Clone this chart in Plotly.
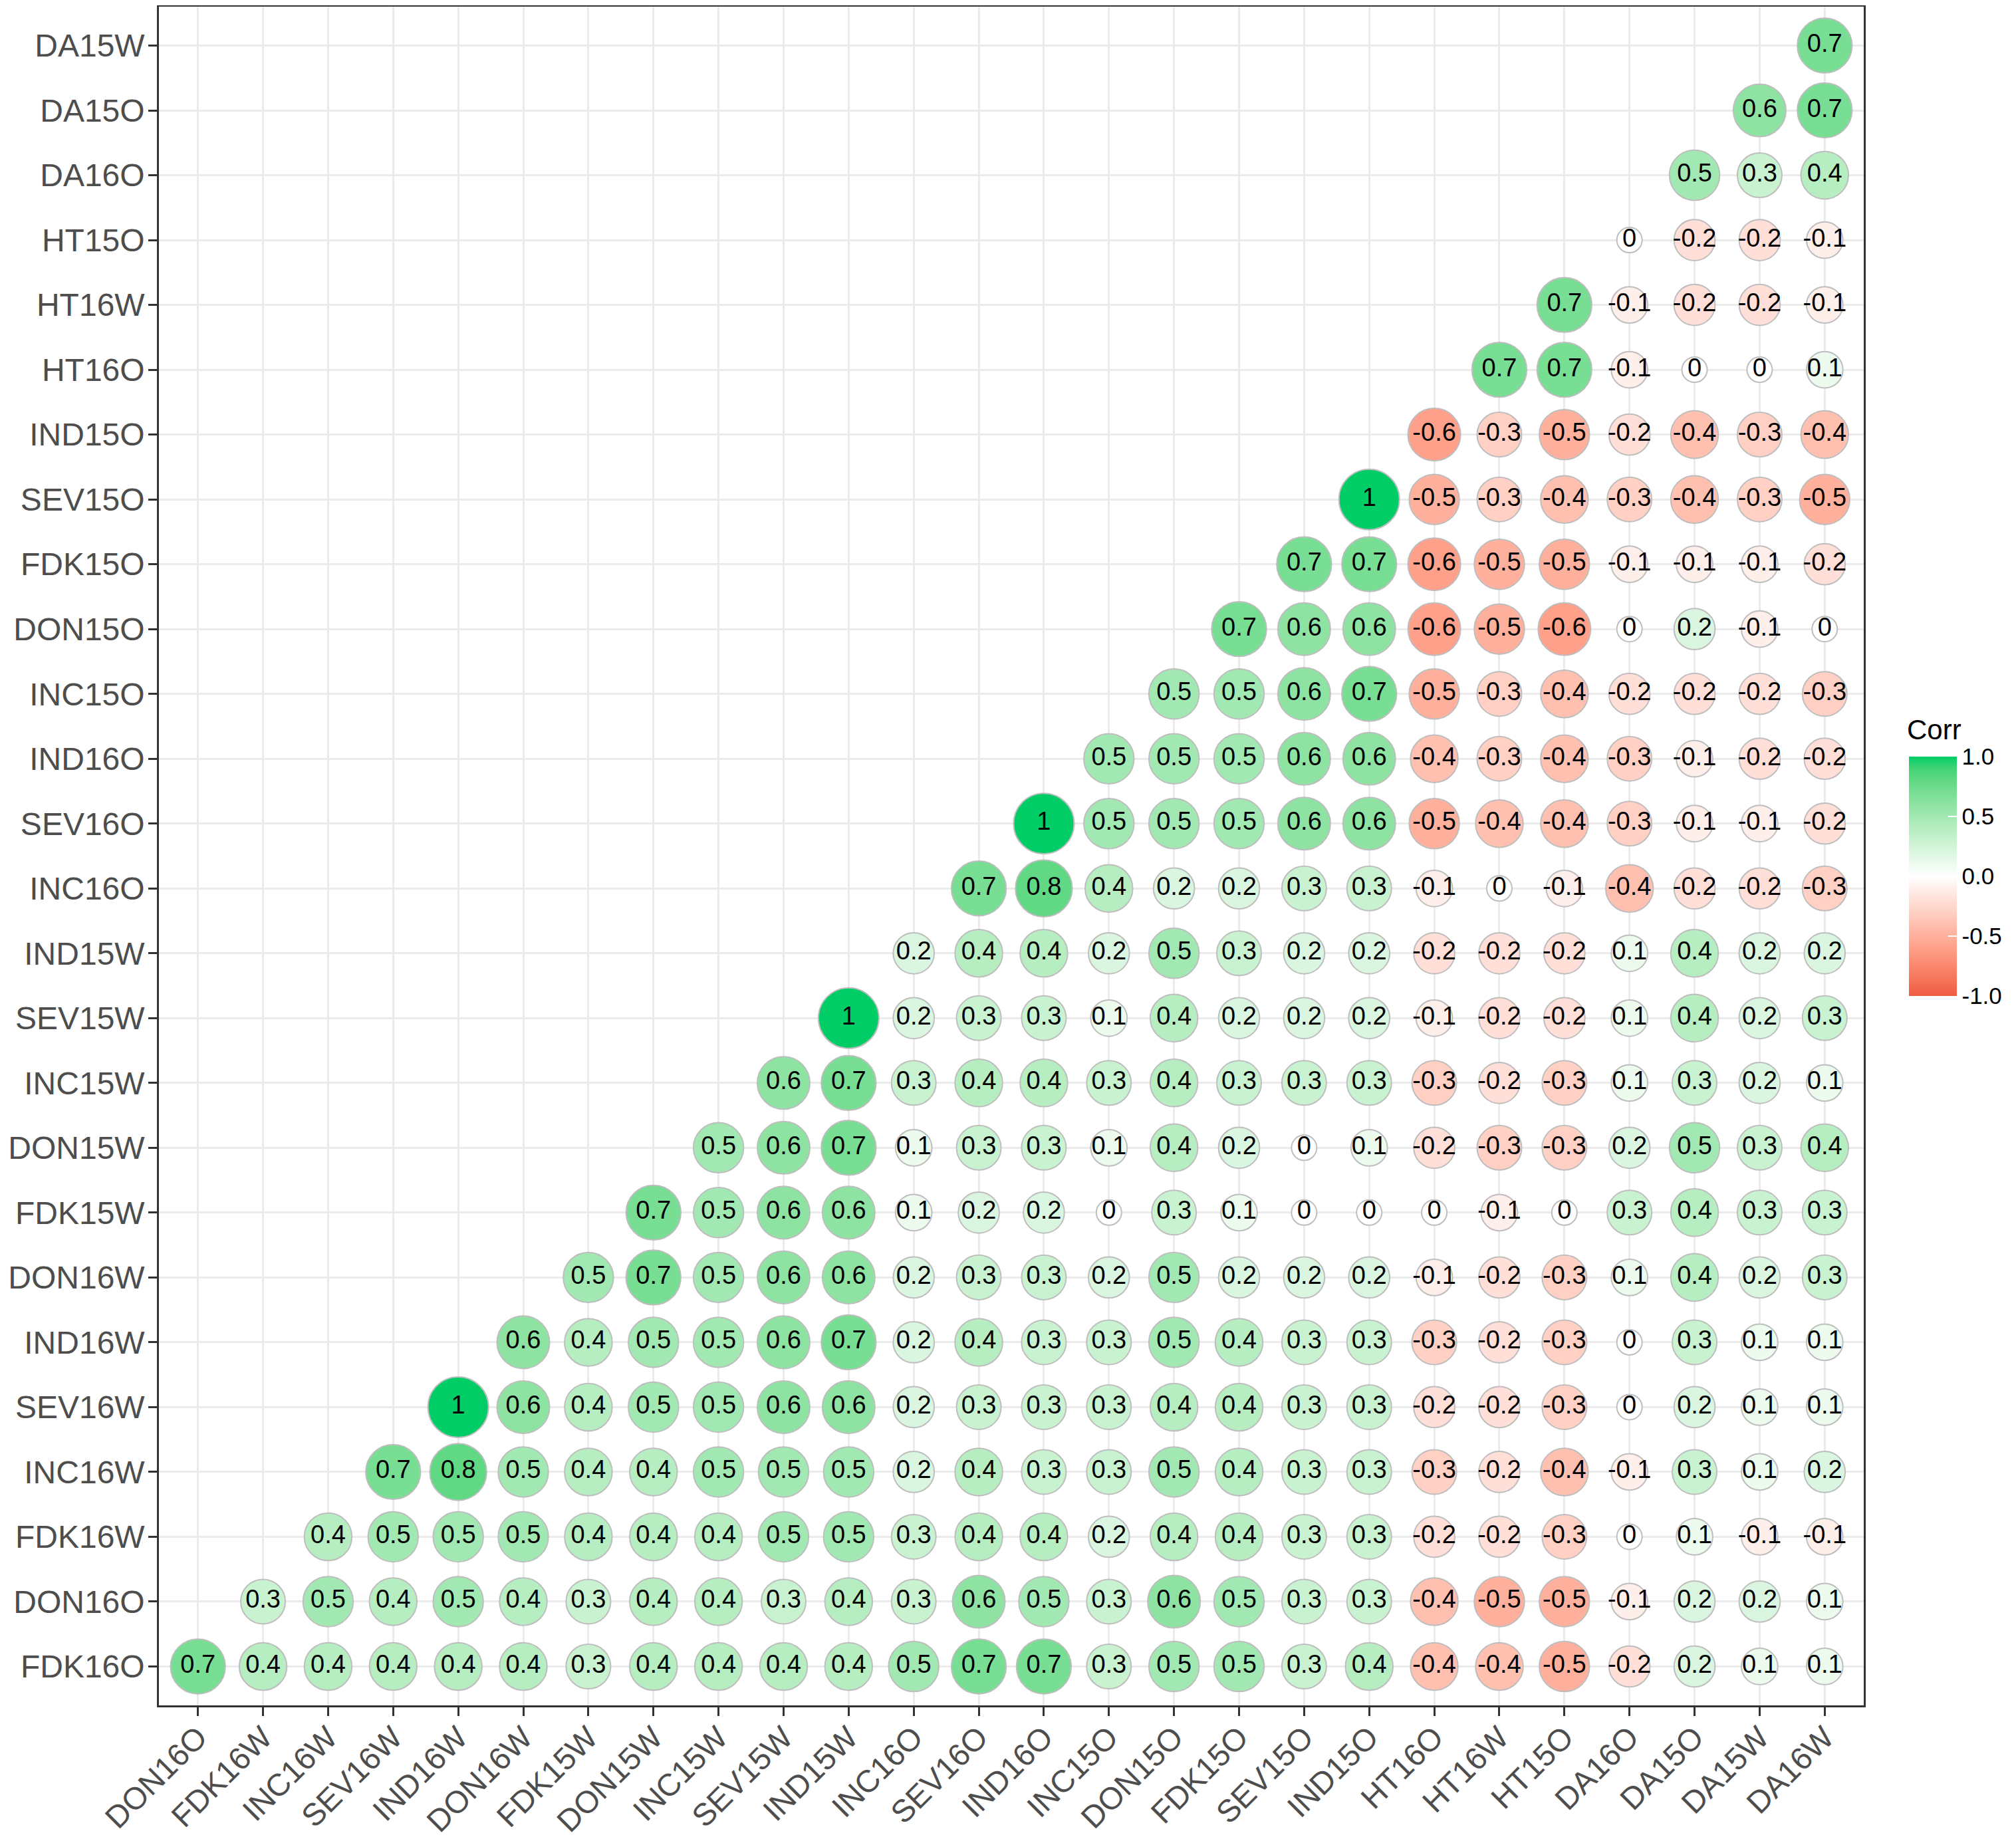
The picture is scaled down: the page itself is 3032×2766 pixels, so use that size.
import math
import plotly.graph_objects as go

# variable order used on both axes
x_vars = ["DON16O", "FDK16W", "INC16W", "SEV16W", "IND16W", "DON16W", "FDK15W",
          "DON15W", "INC15W", "SEV15W", "IND15W", "INC16O", "SEV16O", "IND16O",
          "INC15O", "DON15O", "FDK15O", "SEV15O", "IND15O", "HT16O", "HT16W",
          "HT15O", "DA16O", "DA15O", "DA15W", "DA16W"]
y_vars = ["FDK16O", "DON16O", "FDK16W", "INC16W", "SEV16W", "IND16W", "DON16W",
          "FDK15W", "DON15W", "INC15W", "SEV15W", "IND15W", "INC16O", "SEV16O",
          "IND16O", "INC15O", "DON15O", "FDK15O", "SEV15O", "IND15O", "HT16O",
          "HT16W", "HT15O", "DA16O", "DA15O", "DA15W"]

# rounded correlations, one list per row (y variable), starting at the first shown column
r_FDK16O = [0.7, 0.4, 0.4, 0.4, 0.4, 0.4, 0.3, 0.4, 0.4, 0.4, 0.4, 0.5, 0.7, 0.7, 0.3, 0.5, 0.5, 0.3, 0.4, -0.4, -0.4, -0.5, -0.2, 0.2, 0.1, 0.1]
r_DON16O = [0.3, 0.5, 0.4, 0.5, 0.4, 0.3, 0.4, 0.4, 0.3, 0.4, 0.3, 0.6, 0.5, 0.3, 0.6, 0.5, 0.3, 0.3, -0.4, -0.5, -0.5, -0.1, 0.2, 0.2, 0.1]
r_FDK16W = [0.4, 0.5, 0.5, 0.5, 0.4, 0.4, 0.4, 0.5, 0.5, 0.3, 0.4, 0.4, 0.2, 0.4, 0.4, 0.3, 0.3, -0.2, -0.2, -0.3, 0, 0.1, -0.1, -0.1]
r_INC16W = [0.7, 0.8, 0.5, 0.4, 0.4, 0.5, 0.5, 0.5, 0.2, 0.4, 0.3, 0.3, 0.5, 0.4, 0.3, 0.3, -0.3, -0.2, -0.4, -0.1, 0.3, 0.1, 0.2]
r_SEV16W = [1, 0.6, 0.4, 0.5, 0.5, 0.6, 0.6, 0.2, 0.3, 0.3, 0.3, 0.4, 0.4, 0.3, 0.3, -0.2, -0.2, -0.3, 0, 0.2, 0.1, 0.1]
r_IND16W = [0.6, 0.4, 0.5, 0.5, 0.6, 0.7, 0.2, 0.4, 0.3, 0.3, 0.5, 0.4, 0.3, 0.3, -0.3, -0.2, -0.3, 0, 0.3, 0.1, 0.1]
r_DON16W = [0.5, 0.7, 0.5, 0.6, 0.6, 0.2, 0.3, 0.3, 0.2, 0.5, 0.2, 0.2, 0.2, -0.1, -0.2, -0.3, 0.1, 0.4, 0.2, 0.3]
r_FDK15W = [0.7, 0.5, 0.6, 0.6, 0.1, 0.2, 0.2, 0, 0.3, 0.1, 0, 0, 0, -0.1, 0, 0.3, 0.4, 0.3, 0.3]
r_DON15W = [0.5, 0.6, 0.7, 0.1, 0.3, 0.3, 0.1, 0.4, 0.2, 0, 0.1, -0.2, -0.3, -0.3, 0.2, 0.5, 0.3, 0.4]
r_INC15W = [0.6, 0.7, 0.3, 0.4, 0.4, 0.3, 0.4, 0.3, 0.3, 0.3, -0.3, -0.2, -0.3, 0.1, 0.3, 0.2, 0.1]
r_SEV15W = [1, 0.2, 0.3, 0.3, 0.1, 0.4, 0.2, 0.2, 0.2, -0.1, -0.2, -0.2, 0.1, 0.4, 0.2, 0.3]
r_IND15W = [0.2, 0.4, 0.4, 0.2, 0.5, 0.3, 0.2, 0.2, -0.2, -0.2, -0.2, 0.1, 0.4, 0.2, 0.2]
r_INC16O = [0.7, 0.8, 0.4, 0.2, 0.2, 0.3, 0.3, -0.1, 0, -0.1, -0.4, -0.2, -0.2, -0.3]
r_SEV16O = [1, 0.5, 0.5, 0.5, 0.6, 0.6, -0.5, -0.4, -0.4, -0.3, -0.1, -0.1, -0.2]
r_IND16O = [0.5, 0.5, 0.5, 0.6, 0.6, -0.4, -0.3, -0.4, -0.3, -0.1, -0.2, -0.2]
r_INC15O = [0.5, 0.5, 0.6, 0.7, -0.5, -0.3, -0.4, -0.2, -0.2, -0.2, -0.3]
r_DON15O = [0.7, 0.6, 0.6, -0.6, -0.5, -0.6, 0, 0.2, -0.1, 0]
r_FDK15O = [0.7, 0.7, -0.6, -0.5, -0.5, -0.1, -0.1, -0.1, -0.2]
r_SEV15O = [1, -0.5, -0.3, -0.4, -0.3, -0.4, -0.3, -0.5]
r_IND15O = [-0.6, -0.3, -0.5, -0.2, -0.4, -0.3, -0.4]
r_HT16O = [0.7, 0.7, -0.1, 0, 0, 0.1]
r_HT16W = [0.7, -0.1, -0.2, -0.2, -0.1]
r_HT15O = [0, -0.2, -0.2, -0.1]
r_DA16O = [0.5, 0.3, 0.4]
r_DA15O = [0.6, 0.7]
r_DA15W = [0.7]

rows = [r_FDK16O, r_DON16O, r_FDK16W, r_INC16W, r_SEV16W, r_IND16W, r_DON16W,
        r_FDK15W, r_DON15W, r_INC15W, r_SEV15W, r_IND15W, r_INC16O, r_SEV16O,
        r_IND16O, r_INC15O, r_DON15O, r_FDK15O, r_SEV15O, r_IND15O, r_HT16O,
        r_HT16W, r_HT15O, r_DA16O, r_DA15O, r_DA15W]

xs, ys, vals = [], [], []
for i, row in enumerate(rows):
    for k, v in enumerate(row):
        xs.append(x_vars[i + k])
        ys.append(y_vars[i])
        vals.append(v)


# gradient2 like ggplot: tomato2 - white - springgreen3, interpolated in Lab
def to_lab(rgb):
    lin = []
    for c in rgb:
        c = c / 255
        lin.append(c / 12.92 if c <= 0.04045 else ((c + 0.055) / 1.055) ** 2.4)
    r, g, b = lin
    X = (0.4124 * r + 0.3576 * g + 0.1805 * b) / 0.95047
    Y = 0.2126 * r + 0.7152 * g + 0.0722 * b
    Z = (0.0193 * r + 0.1192 * g + 0.9505 * b) / 1.08883
    f = lambda t: t ** (1 / 3) if t > 0.008856 else 7.787 * t + 16 / 116
    fx, fy, fz = f(X), f(Y), f(Z)
    return (116 * fy - 16, 500 * (fx - fy), 200 * (fy - fz))


def from_lab(lab):
    L, a, b = lab
    fy = (L + 16) / 116
    fx = fy + a / 500
    fz = fy - b / 200
    finv = lambda t: t ** 3 if t ** 3 > 0.008856 else (t - 16 / 116) / 7.787
    X, Y, Z = finv(fx) * 0.95047, finv(fy), finv(fz) * 1.08883
    r = 3.2406 * X - 1.5372 * Y - 0.4986 * Z
    g = -0.9689 * X + 1.8758 * Y + 0.0415 * Z
    bb = 0.0557 * X - 0.2040 * Y + 1.0570 * Z
    out = []
    for c in (r, g, bb):
        c = 12.92 * c if c <= 0.0031308 else 1.055 * c ** (1 / 2.4) - 0.055
        out.append(int(round(min(max(c, 0), 1) * 255)))
    return "rgb(%d,%d,%d)" % tuple(out)


low, mid, high = to_lab((238, 92, 66)), to_lab((255, 255, 255)), to_lab((0, 205, 102))
cscale = []
n = 10
for j in range(n + 1):
    t = j / n
    cscale.append([t / 2, from_lab([low[q] + (mid[q] - low[q]) * t for q in range(3)])])
for j in range(1, n + 1):
    t = j / n
    cscale.append([0.5 + t / 2, from_lab([mid[q] + (high[q] - mid[q]) * t for q in range(3)])])

sizes = [38 + 53 * math.sqrt(abs(v)) for v in vals]
labels = [f"{v:g}" for v in vals]

FONT = "Liberation Sans, Arial"
# page body has an 8px margin, so the figure is drawn 8px in from the top-left
W, H = 3024, 2758
ML, MR, MT, MB = 231, 229, 2, 201
PW, PH = W - ML - MR, H - MT - MB

fig = go.Figure(go.Scatter(
    x=xs, y=ys, mode="markers+text",
    text=labels, textposition="middle center",
    textfont=dict(family=FONT, size=38, color="black"),
    marker=dict(
        size=sizes, color=vals, cmin=-1, cmax=1, colorscale=cscale,
        line=dict(color="#BEBEBE", width=2), opacity=1,
        colorbar=dict(
            x=(2871 - 8 - ML) / PW, xanchor="left",
            y=1 - (1138 - 8 - MT) / PH, yanchor="top",
            thickness=72, len=360, lenmode="pixels", outlinewidth=0,
            xpad=0, ypad=0,
            tickvals=[-1, -0.5, 0, 0.5, 1],
            ticktext=["-1.0", "-0.5", "0.0", "0.5", "1.0"],
            ticks="inside", ticklen=13, tickwidth=2, tickcolor="white",
            tickfont=dict(family=FONT, size=35, color="black"),
        ),
    ),
    hoverinfo="x+y+text", showlegend=False,
))

axis_common = dict(
    type="category", showgrid=True, gridcolor="#EBEBEB", gridwidth=2.7,
    showline=True, mirror=True, linecolor="#333333", linewidth=2.5,
    ticks="outside", ticklen=13, tickwidth=3, tickcolor="#333333",
    zeroline=False, range=[-0.6, 25.6], automargin=False,
)

fig.update_xaxes(**axis_common, categoryorder="array", categoryarray=x_vars,
                 tickangle=-45, ticklabelstandoff=-14,
                 tickfont=dict(family=FONT, size=47, color="#4D4D4D"))
fig.update_yaxes(**axis_common, categoryorder="array", categoryarray=y_vars,
                 ticklabelstandoff=-4,
                 tickfont=dict(family=FONT, size=48, color="#4D4D4D"))

# legend title, placed like ggplot's
fig.add_annotation(text="Corr", xref="paper", yref="paper",
                   x=(2866 - 8 - ML) / PW, y=1 - (1098 - 8 - MT) / PH,
                   xanchor="left", yanchor="middle", showarrow=False,
                   font=dict(family=FONT, size=42, color="black"))

fig.update_layout(
    width=W, height=H,
    margin=dict(l=ML, r=MR, t=MT, b=MB, autoexpand=False),
    plot_bgcolor="white", paper_bgcolor="white",
)

fig.write_html("out.html")
